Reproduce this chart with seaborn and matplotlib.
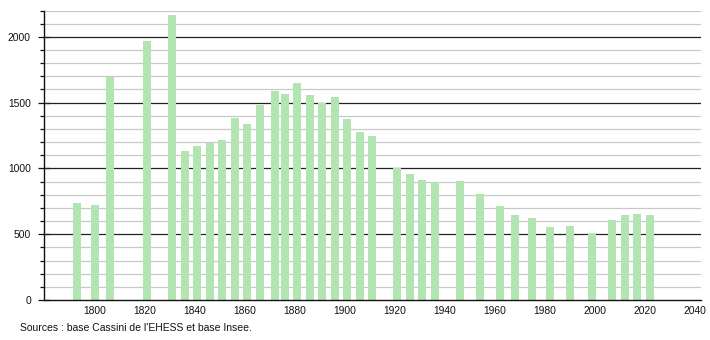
import matplotlib
matplotlib.use("Agg")
import matplotlib.pyplot as plt
import seaborn as sns
import pandas as pd
from matplotlib.ticker import MultipleLocator, FixedLocator

years = [1793, 1800, 1806, 1821, 1831, 1836, 1841, 1846, 1851, 1856,
         1861, 1866, 1872, 1876, 1881, 1886, 1891, 1896, 1901, 1906,
         1911, 1921, 1926, 1931, 1936, 1946, 1954, 1962, 1968, 1975,
         1982, 1990, 1999, 2007, 2012, 2017, 2022]
population = [735, 722, 1695, 1965, 2165, 1132, 1170, 1195, 1215, 1380,
              1336, 1480, 1586, 1564, 1647, 1556, 1500, 1541, 1372, 1276,
              1248, 1003, 958, 915, 894, 904, 806, 715, 644, 624,
              556, 564, 506, 609, 647, 655, 649]
x_ticks = [1800, 1820, 1840, 1860, 1880, 1900, 1920, 1940, 1960, 1980, 2000, 2020, 2040]
y_ticks = [0, 500, 1000, 1500, 2000]
source = "Sources : base Cassini de l'EHESS et base Insee."

df = pd.DataFrame({"year": years, "population": population})

sns.set_theme(style="white")
plt.rcParams["font.family"] = ["Liberation Sans", "DejaVu Sans"]

fig = plt.figure(figsize=(7.1, 3.4), dpi=100)
ax = fig.add_axes([43.5 / 710, 40 / 340, (701 - 43.5) / 710, (300 - 10.5) / 340])

sns.barplot(data=df, x="year", y="population", native_scale=True, width=0.8,
            color="#b2e5b2", saturation=1, ax=ax, zorder=3, errorbar=None,
            edgecolor="none", linewidth=0)

ax.set_xlim(1779.5, 2042.5)
ax.set_ylim(0, 2200)

# grid lines
for v in range(100, 2201, 100):
    if v % 500 == 0:
        ax.axhline(v, color="#222222", lw=0.9, zorder=1)
    else:
        ax.axhline(v, color="#c8c8c8", lw=0.9, zorder=1)

ax.yaxis.set_major_locator(FixedLocator(y_ticks))
ax.yaxis.set_minor_locator(MultipleLocator(100))
ax.tick_params(axis="y", which="major", direction="inout", length=8, width=0.9,
               color="#111111", labelsize=7.4, pad=5, labelcolor="#111111", left=True)
ax.tick_params(axis="y", which="minor", direction="out", length=3, width=0.9,
               color="#111111", left=True)
ax.set_xticks(x_ticks)
ax.tick_params(axis="x", which="both", length=0, labelsize=7.4, pad=4, labelcolor="#111111")

for s in ["top", "right"]:
    ax.spines[s].set_visible(False)
for s in ["left", "bottom"]:
    ax.spines[s].set_color("#111111")
    ax.spines[s].set_linewidth(1.0)
    ax.spines[s].set_zorder(4)

ax.set_xlabel("")
ax.set_ylabel("")

fig.text(20 / 710, 1 - 328 / 340, source, fontsize=7.5, color="#111111",
         ha="left", va="center")

fig.savefig("out.png", dpi=100)
